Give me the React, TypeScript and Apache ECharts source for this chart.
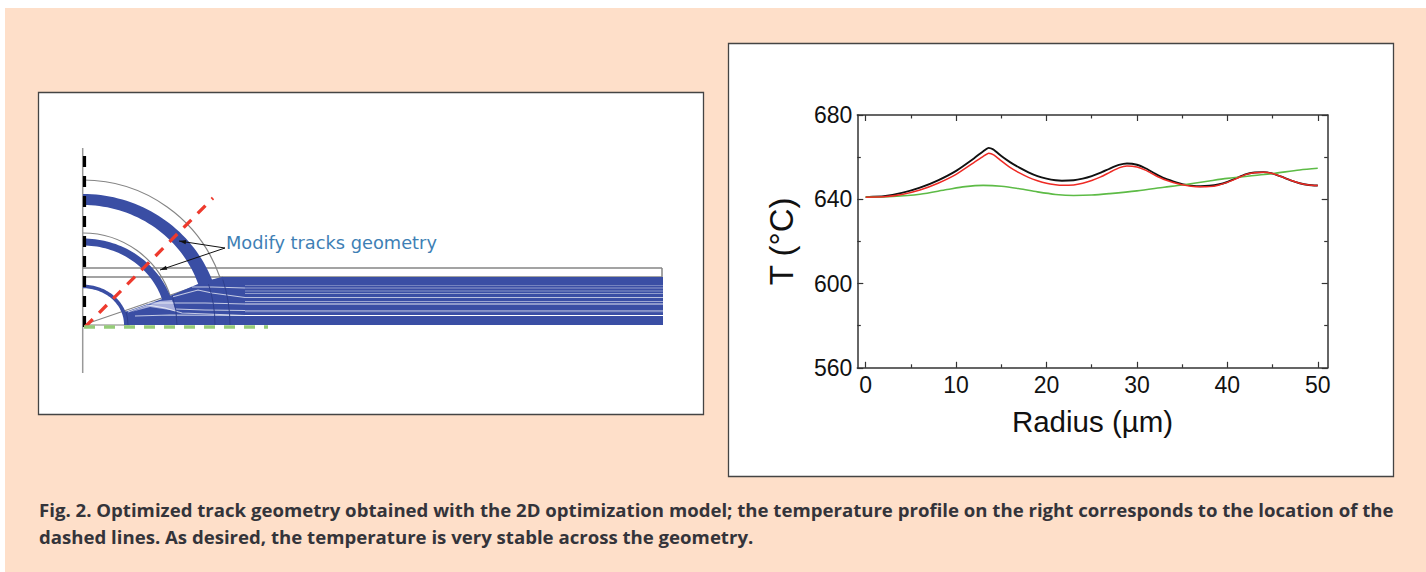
import React, { useEffect, useRef } from "react";
import * as echarts from "echarts";

const radius = [0, 2, 4, 6, 8, 10, 12, 13, 13.6, 14.2, 15, 16, 17, 18, 19, 20, 21, 21.7, 23, 24, 25, 26, 27, 28, 28.9, 30, 31, 32, 33, 34, 35, 36, 37, 38, 39, 40, 41, 42, 43, 44, 45, 46, 47, 48, 49, 50];
const blackT = [641, 641.4, 643, 645.5, 649, 653.5, 659.5, 662.8, 664.4, 663.4, 660.5, 657.5, 655, 652.8, 651, 649.8, 649, 648.8, 649, 649.8, 651, 652.6, 654.6, 656.3, 657, 656.4, 654.6, 652.2, 650, 648.5, 647.2, 646.5, 646.2, 646.4, 647, 648.2, 650, 651.8, 652.7, 652.9, 652.2, 650.7, 649, 647.6, 646.8, 646.5];
const redT = [641, 641.2, 642.3, 644.4, 647.6, 651.8, 657.5, 660.4, 661.9, 661, 658.2, 655, 652.5, 650.4, 648.8, 647.6, 646.9, 646.6, 646.8, 647.6, 648.9, 650.6, 652.8, 654.9, 655.8, 655.3, 653.7, 651.4, 649.4, 648, 646.9, 646.2, 645.9, 646, 646.7, 648, 649.8, 651.7, 652.6, 652.8, 652.2, 650.7, 649, 647.6, 646.8, 646.5];
const greenRadius = [0, 3, 6, 9, 11, 13, 15, 17, 19, 21, 23, 25, 27, 30, 33, 35, 38, 40, 43, 45, 48, 50];
const greenT = [641, 641.3, 642.4, 644.6, 646, 646.6, 646.2, 645, 643.5, 642.3, 641.8, 642, 642.7, 644, 645.7, 646.8, 648.7, 649.9, 651.3, 652.2, 653.9, 654.7];

const xMajor = [0, 10, 20, 30, 40, 50];
const xMinor = [5, 15, 25, 35, 45];
const captionLines = [
  "Fig. 2. Optimized track geometry obtained with the 2D optimization model; the temperature profile on the right corresponds to the location of the",
  "dashed lines. As desired, the temperature is very stable across the geometry.",
];
const annotation = "Modify tracks geometry";
const stripeYs = [285.5, 288, 291, 293.5, 297.5, 301.5, 304, 310.5, 311.7, 315.5];
const stripeAlpha = [0.3, 0.45, 0.4, 0.45, 0.65, 0.5, 0.85, 0.4, 0.35, 1];
const stripePaths = [
  [[128, 312], [148, 305], [165, 308], [182, 313], [245, 315.5]],
  [[148, 303], [168, 303], [205, 303], [245, 304]],
  [[172, 297], [198, 290], [212, 293], [245, 297.5]],
  [[175, 309], [205, 310], [245, 310.5]],
  [[192, 287], [212, 287], [245, 288]],
  [[135, 316], [170, 315], [245, 315.5]],
];

const BLUE = "#3A4EA4";
const GRAY = "#858585";
const O: [number, number] = [83, 325];
const deg = (d: number) => (d * Math.PI) / 180;

function arc(r: number, width: number, color: string, from: number, to: number, z = 1) {
  return {
    type: "arc", z, silent: true,
    shape: { cx: O[0], cy: O[1], r, startAngle: deg(from), endAngle: deg(to), clockwise: true },
    style: { stroke: color, lineWidth: width, fill: "none" },
  };
}
// quarter-ellipse track with a thickness that flares toward its end
function track(rx: number, ry: number, w0: number, w1: number, endDeg: number) {
  const outer: number[][] = [];
  const inner: number[][] = [];
  const n = 40;
  for (let i = 0; i <= n; i++) {
    const t = i / n;
    const a = deg(90 + (endDeg - 90) * t);
    const w = (w0 + (w1 - w0) * t * t) / 2;
    outer.push([O[0] + (rx + w) * Math.cos(a), O[1] - (ry + w) * Math.sin(a)]);
    inner.unshift([O[0] + (rx - w) * Math.cos(a), O[1] - (ry - w) * Math.sin(a)]);
  }
  return { type: "polygon", z: 2, silent: true, shape: { points: [...outer, ...inner] }, style: { fill: BLUE } };
}
function seg(x1: number, y1: number, x2: number, y2: number, color: string, width: number, dash?: number[], z = 1) {
  return {
    type: "line", z, silent: true,
    shape: { x1, y1, x2, y2 },
    style: { stroke: color, lineWidth: width, lineDash: dash },
  };
}
function arrowHead(x: number, y: number, fromX: number, fromY: number) {
  const a = Math.atan2(y - fromY, x - fromX);
  const l = 7, w = 2.2;
  const bx = x - l * Math.cos(a), by = y - l * Math.sin(a);
  return {
    type: "polygon", z: 6, silent: true,
    shape: { points: [[x, y], [bx - w * Math.sin(a), by + w * Math.cos(a)], [bx + w * Math.sin(a), by - w * Math.cos(a)]] },
    style: { fill: "#111" },
  };
}

function schematic() {
  const els: any[] = [];
  els.push(seg(82.7, 148, 82.7, 373, "#999", 1.5));
  els.push(seg(83, 268, 662, 268, GRAY, 1.4));
  els.push(seg(83, 277, 662, 277, GRAY, 1.4));
  els.push(seg(662, 268, 662, 325, GRAY, 1.5));
  els.push(seg(83, 325, 223, 277, GRAY, 1.2));
  els.push(seg(83, 325, 130, 325, "#aaa", 1.4));
  els.push(arc(145, 1.2, GRAY, -90, -19));
  els.push(arc(92, 1.2, GRAY, -90, -18));
  // thick tracks
  els.push(track(130, 125.5, 11, 15, 15));
  els.push(track(88, 83, 7, 9, 14));
  els.push(track(43, 38.5, 3.5, 4, 0));
  // straight band and fan-in
  els.push({ type: "rect", z: 2, silent: true, shape: { x: 222, y: 277, width: 441, height: 48 }, style: { fill: BLUE } });
  els.push({
    type: "polygon", z: 2, silent: true,
    shape: { points: [[125, 325], [125, 312], [165, 298], [198, 284], [207, 285], [210, 280], [222, 277], [226, 325]] },
    style: { fill: BLUE },
  });
  els.push({
    type: "polygon", z: 3, silent: true,
    shape: { points: [[131, 312], [160, 301], [172, 300], [176, 311], [150, 307]] },
    style: { fill: "#A9B0DC" },
  });
  stripeYs.forEach((y, i) => {
    els.push({ type: "line", z: 3, silent: true, shape: { x1: 245, y1: y, x2: 663, y2: y }, style: { stroke: "#fff", lineWidth: 1.2, opacity: stripeAlpha[i] } });
  });
  for (const p of stripePaths) {
    els.push({ type: "polyline", z: 3, silent: true, shape: { points: p }, style: { stroke: "#fff", lineWidth: 1.1, opacity: 0.7, fill: "none" } });
  }
  // curved crossings
  for (const r of [45, 94, 132, 147]) els.push(arc(r, 1, "#2E3F8E", -18, 0, 4));
  // dashed overlays
  els.push(seg(84.5, 156, 84.5, 327, "#000", 3.2, [11, 9], 5));
  els.push(seg(85, 327, 213, 198, "#EE3A2D", 3.3, [11, 9], 5));
  els.push(seg(84, 327, 268, 327, "#95CC78", 3.5, [11, 9], 5));
  // annotation
  els.push(seg(225, 248, 179, 241, "#111", 1, undefined, 6));
  els.push(seg(225, 248, 160, 270, "#111", 1, undefined, 6));
  els.push(arrowHead(179, 241, 225, 248));
  els.push(arrowHead(160, 270, 225, 248));
  els.push({
    type: "text", z: 6, silent: true, x: 226, y: 242,
    style: { text: annotation, fill: "#3E7FB5", font: "17.8px 'DejaVu Sans'", verticalAlign: "middle" },
  });
  return els;
}

export default function App() {
  const ref = useRef<HTMLDivElement>(null);
  useEffect(() => {
    const chart = echarts.init(ref.current!, undefined, { renderer: "svg" });
    const tickFont = { fontFamily: "Liberation Sans", fontSize: 23, color: "#111" };
    const baseX = { type: "value", min: -0.93, max: 51.1, splitLine: { show: false } };
    const axisLine = { show: true, onZero: false, lineStyle: { color: "#333", width: 1.5 } };
    const major = { show: true, inside: true, length: 6, lineStyle: { color: "#333", width: 1.2 } };
    const minor = { show: true, inside: true, length: 3.5, lineStyle: { color: "#333", width: 1.2 } };
    chart.setOption({
      animation: false,
      backgroundColor: "#ffffff",
      grid: { left: 857.3, top: 115, width: 470.4, height: 252.8, containLabel: false },
      xAxis: [
        {
          ...baseX, position: "bottom", axisLine,
          axisTick: { ...major, customValues: xMajor },
          axisLabel: { ...tickFont, margin: 6, customValues: xMajor, showMinLabel: true, showMaxLabel: true },
          name: "Radius (µm)", nameLocation: "middle", nameGap: 39,
          nameTextStyle: { fontFamily: "Liberation Sans", fontSize: 29.5, color: "#111" },
        },
        { ...baseX, position: "bottom", axisLine: { show: false }, axisTick: { ...minor, customValues: xMinor }, axisLabel: { show: false } },
        { ...baseX, position: "top", axisLine, axisTick: { ...major, customValues: xMajor }, axisLabel: { show: false } },
        { ...baseX, position: "top", axisLine: { show: false }, axisTick: { ...minor, customValues: xMinor }, axisLabel: { show: false } },
      ],
      yAxis: [
        {
          type: "value", min: 560, max: 680, interval: 40, position: "left", splitLine: { show: false }, axisLine,
          axisTick: major, minorTick: { show: true, splitNumber: 2, length: 3.5, lineStyle: { color: "#333", width: 1.2 } },
          axisLabel: { ...tickFont, margin: 5 },
          name: "T (°C)", nameLocation: "middle", nameGap: 59,
          nameTextStyle: { fontFamily: "Liberation Sans", fontSize: 33, color: "#111" },
        },
        {
          type: "value", min: 560, max: 680, interval: 40, position: "right", splitLine: { show: false }, axisLine,
          axisTick: major, minorTick: { show: true, splitNumber: 2, length: 3.5, lineStyle: { color: "#333", width: 1.2 } },
          axisLabel: { show: false },
        },
      ],
      series: [
        { name: "Black", type: "line", smooth: 0.15, symbol: "none", z: 3, data: radius.map((r, i) => [r, blackT[i]]), lineStyle: { color: "#111", width: 1.9 } },
        { name: "Green", type: "line", smooth: 0.3, symbol: "none", z: 4, data: greenRadius.map((r, i) => [r, greenT[i]]), lineStyle: { color: "#5DBB46", width: 1.6 } },
        { name: "Red", type: "line", smooth: 0.15, symbol: "none", z: 5, data: radius.map((r, i) => [r, redT[i]]), lineStyle: { color: "#EE2A24", width: 1.5 } },
      ],
      graphic: [
        { type: "rect", z: -3, silent: true, shape: { x: 5, y: 8, width: 1421, height: 564 }, style: { fill: "#FEDFC9" } },
        { type: "rect", z: -2, silent: true, shape: { x: 38.5, y: 92.5, width: 665, height: 322 }, style: { fill: "#fff", stroke: "#444", lineWidth: 1.3 } },
        { type: "rect", z: -2, silent: true, shape: { x: 728.5, y: 43.5, width: 665, height: 433 }, style: { fill: "#fff", stroke: "#444", lineWidth: 1.3 } },
        ...schematic(),
        ...captionLines.map((t, i) => ({
          type: "text", z: 6, silent: true, x: 39, y: 510 + i * 27, scaleX: 1.034,
          style: { text: t, fill: "#34343a", font: "bold 18px 'Open Sans'", verticalAlign: "middle" },
        })),
      ],
    });
    return () => chart.dispose();
  }, []);
  return <div ref={ref} style={{ position: "fixed", left: 0, top: 0, width: 1426, height: 572 }} />;
}
